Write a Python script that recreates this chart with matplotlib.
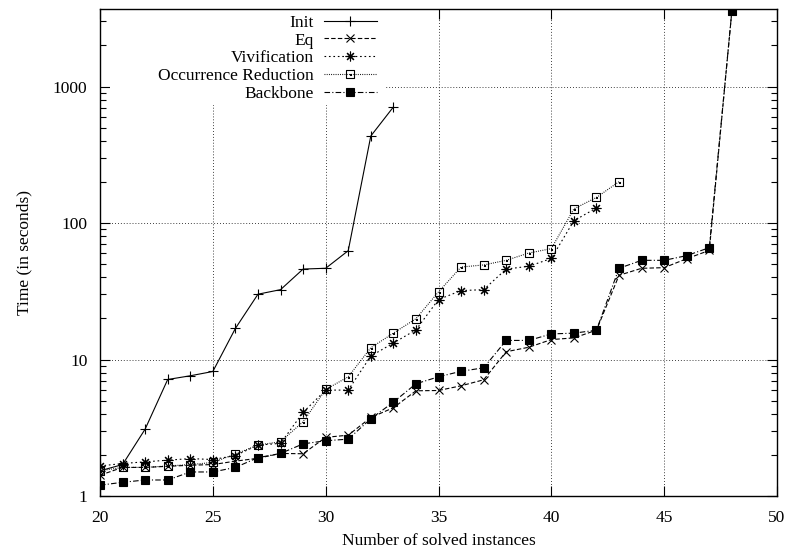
import matplotlib
matplotlib.use("Agg")
import matplotlib.pyplot as plt
from matplotlib.path import Path
from matplotlib.patches import Rectangle
from matplotlib.ticker import FixedLocator, LogLocator, NullFormatter, FixedFormatter

plt.rcParams['font.family'] = ['Liberation Serif', 'DejaVu Serif']

# Solving time (seconds) against number of solved instances
inst_init = list(range(20, 34))
time_init = [1.53, 1.70, 3.09, 7.14, 7.6, 8.17, 16.9, 30.1, 32.5, 46.0, 46.6, 62.7, 434, 708]

inst_eq = list(range(20, 49))
time_eq = [1.42, 1.62, 1.62, 1.65, 1.68, 1.70, 1.80, 1.89, 2.05, 2.04, 2.69, 2.79, 3.76, 4.43,
           5.9, 5.93, 6.42, 7.1, 11.4, 12.3, 14.0, 14.4, 16.4, 41.4, 46.6, 47.1, 54.8, 63.0, 3580]

inst_viv = list(range(20, 43))
time_viv = [1.66, 1.73, 1.78, 1.83, 1.88, 1.85, 1.98, 2.36, 2.43, 4.1, 5.97, 5.97, 10.6, 13.2,
            16.5, 27.5, 32.0, 32.5, 46.0, 48.2, 55.0, 104, 129]

inst_occ = list(range(20, 44))
time_occ = [1.53, 1.62, 1.62, 1.66, 1.70, 1.76, 2.03, 2.36, 2.5, 3.5, 6.03, 7.47, 12.2, 15.6,
            19.9, 31.3, 47.6, 49.3, 53.3, 60.3, 64.9, 127, 154, 201]

inst_bb = list(range(20, 49))
time_bb = [1.20, 1.26, 1.31, 1.31, 1.50, 1.50, 1.62, 1.91, 2.05, 2.41, 2.54, 2.61, 3.68, 4.87,
           6.64, 7.47, 8.2, 8.69, 13.8, 13.8, 15.4, 15.6, 16.4, 46.6, 53.3, 53.3, 57.7, 66.0, 3580]

x_ticks = [20, 25, 30, 35, 40, 45, 50]
y_ticks = [1, 10, 100, 1000]
y_tick_labels = ["1", "10", "100", "1000"]

# open square with a dot in the middle
sq = [(-1, -1), (1, -1), (1, 1), (-1, 1), (-1, -1)]
dot = [(-0.12, -0.12), (0.12, -0.12), (0.12, 0.12), (-0.12, 0.12), (-0.12, -0.12)]
codes = [Path.MOVETO] + [Path.LINETO] * 3 + [Path.CLOSEPOLY]
dotted_square = Path(sq + dot, codes + codes)

fig = plt.figure(figsize=(7.89, 5.53), dpi=100)
ax = fig.add_axes([100 / 789, 1 - 496 / 553, 677 / 789, 487 / 553])

lw = 0.8
ax.plot(inst_init, time_init, color='black', lw=lw, ls='-', marker='+', ms=7, mew=0.8,
        label='Init', zorder=3)
ax.plot(inst_eq, time_eq, color='black', lw=lw, ls=(0, (4, 2)), marker='x', ms=6, mew=0.8,
        label='Eq', zorder=3)
ax.plot(inst_viv, time_viv, color='black', lw=lw, ls=(0, (1.5, 2.5)), marker=(8, 2, 0), ms=7,
        mew=0.8, label='Vivification', zorder=3)
ax.plot(inst_occ, time_occ, color='black', lw=lw, ls=(0, (0.8, 1.2)), marker=dotted_square, ms=6,
        mew=0.8, mfc='none', label='Occurrence Reduction', zorder=3)
ax.plot(inst_bb, time_bb, color='black', lw=lw, ls=(0, (5, 2, 1, 2)), marker='s', ms=6,
        mew=0.8, mfc='black', label='Backbone', zorder=3)

ax.set_yscale('log')
ax.set_xlim(20, 50)
ax.set_ylim(1, 3700)

ax.xaxis.set_major_locator(FixedLocator(x_ticks))
ax.yaxis.set_major_locator(FixedLocator(y_ticks))
ax.yaxis.set_major_formatter(FixedFormatter(y_tick_labels))
ax.yaxis.set_minor_locator(LogLocator(base=10, subs=range(2, 10)))
ax.yaxis.set_minor_formatter(NullFormatter())

ax.tick_params(which='both', direction='in', top=True, right=True, labelsize=12.5, color='black')
ax.tick_params(which='major', length=7, width=0.8)
ax.tick_params(which='minor', length=4, width=0.8)
ax.tick_params(axis='x', pad=10)
ax.tick_params(axis='y', pad=9)

ax.grid(True, which='major', color='black', ls=(0, (1, 2.5)), lw=0.6)
for s in ax.spines.values():
    s.set_linewidth(1.0)

# opaque key area
ax.add_patch(Rectangle((0.015, 0.803), 0.406, 0.197, transform=ax.transAxes,
                       facecolor='white', edgecolor='none', zorder=2))

ax.legend(loc='upper right', bbox_to_anchor=(380 / 789, 1 - 11 / 553),
          bbox_transform=fig.transFigure, markerfirst=False, frameon=False,
          fontsize=12.5, handlelength=3.0, handletextpad=0.6, labelspacing=0.1,
          borderpad=0.2, borderaxespad=0)

ax.set_xlabel('Number of solved instances', fontsize=12.5, labelpad=5)
ax.set_ylabel('Time (in seconds)', fontsize=12.5, labelpad=15)

fig.savefig('out.png', dpi=100)
